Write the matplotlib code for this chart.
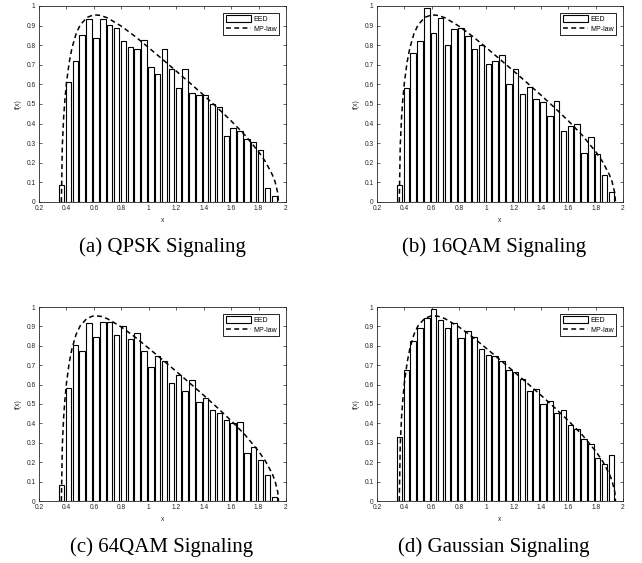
"""Empirical eigenvalue distribution (EED) vs. Marchenko-Pastur law for
four signaling schemes, drawn as a 2x2 grid of histograms.
"""

import matplotlib

matplotlib.use("Agg")
import matplotlib.pyplot as plt

plt.rcParams["font.family"] = ["Liberation Sans", "DejaVu Sans"]

# histogram bin centres (same bins in every panel)
BIN_CENTERS = [
    0.365, 0.415, 0.465, 0.515, 0.565, 0.615, 0.665, 0.715,
    0.765, 0.815, 0.865, 0.915, 0.965, 1.015, 1.065, 1.115,
    1.165, 1.215, 1.265, 1.315, 1.365, 1.415, 1.465, 1.515,
    1.565, 1.615, 1.665, 1.715, 1.765, 1.815, 1.865, 1.915,
]

EED_QPSK = [
    0.085, 0.61, 0.72, 0.85, 0.935, 0.835, 0.935, 0.905,
    0.89, 0.82, 0.79, 0.78, 0.825, 0.69, 0.655, 0.78,
    0.68, 0.58, 0.68, 0.555, 0.545, 0.545, 0.50, 0.485,
    0.335, 0.375, 0.36, 0.32, 0.305, 0.265, 0.07, 0.03,
]
EED_16QAM = [
    0.085, 0.58, 0.76, 0.82, 0.99, 0.86, 0.94, 0.80,
    0.885, 0.89, 0.845, 0.78, 0.80, 0.705, 0.72, 0.75,
    0.60, 0.68, 0.55, 0.585, 0.525, 0.51, 0.44, 0.515,
    0.36, 0.39, 0.40, 0.25, 0.33, 0.245, 0.14, 0.05,
]
EED_64QAM = [
    0.085, 0.585, 0.805, 0.775, 0.915, 0.845, 0.925, 0.925,
    0.855, 0.90, 0.835, 0.865, 0.775, 0.69, 0.75, 0.72,
    0.61, 0.65, 0.565, 0.625, 0.51, 0.53, 0.47, 0.455,
    0.415, 0.40, 0.405, 0.245, 0.28, 0.21, 0.135, 0.02,
]
EED_GAUSS = [
    0.33, 0.675, 0.825, 0.89, 0.945, 0.99, 0.935, 0.89,
    0.92, 0.84, 0.875, 0.845, 0.785, 0.755, 0.745, 0.72,
    0.675, 0.665, 0.63, 0.565, 0.575, 0.50, 0.515, 0.455,
    0.47, 0.39, 0.37, 0.32, 0.295, 0.22, 0.19, 0.235,
]

# MP-law curve, points
MP_X = [
    0.363, 0.37, 0.38, 0.39, 0.40, 0.42, 0.44, 0.47, 0.50, 0.55,
    0.60, 0.65, 0.70, 0.80, 0.90, 1.00, 1.10, 1.20, 1.30, 1.40,
    1.50, 1.60, 1.70, 1.80, 1.85, 1.90, 1.92, 1.94, 1.945,
]
MP_Y = [
    0.0, 0.288, 0.436, 0.533, 0.607, 0.712, 0.785, 0.858, 0.903, 0.942,
    0.955, 0.952, 0.939, 0.897, 0.845, 0.787, 0.728, 0.668, 0.607, 0.545,
    0.481, 0.414, 0.342, 0.257, 0.206, 0.140, 0.104, 0.046, 0.0,
]

PANELS = [
    ("(a) QPSK Signaling", EED_QPSK),
    ("(b) 16QAM Signaling", EED_16QAM),
    ("(c) 64QAM Signaling", EED_64QAM),
    ("(d) Gaussian Signaling", EED_GAUSS),
]

W, H = 642, 563
# axes boxes in pixels: left, top, right, bottom
BOXES = [
    (39, 6, 286, 202),
    (377, 6, 623, 202),
    (39, 307, 286, 501),
    (377, 307, 623, 501),
]
CAPTION_X = [162, 494, 162, 494]
CAPTION_Y = [247, 247, 547, 547]

INK = "#262626"

fig = plt.figure(figsize=(W / 100, H / 100), dpi=100)

for (caption, eed), (l, t, r, b), cx, cy in zip(PANELS, BOXES, CAPTION_X, CAPTION_Y):
    ax = fig.add_axes([l / W, 1 - b / H, (r - l) / W, (b - t) / H])
    bars = ax.bar(BIN_CENTERS, eed, width=0.04, color="white", edgecolor="black",
                  linewidth=0.8, zorder=2)
    (curve,) = ax.plot(MP_X, MP_Y, color="black", linestyle=(0, (3.2, 2.2)),
                       linewidth=1.1, zorder=3)

    ax.set_xlim(0.2, 2)
    ax.set_ylim(0, 1)
    ax.set_xticks([0.2, 0.4, 0.6, 0.8, 1, 1.2, 1.4, 1.6, 1.8, 2])
    ax.set_xticklabels(["0.2", "0.4", "0.6", "0.8", "1", "1.2", "1.4", "1.6", "1.8", "2"])
    ax.set_yticks([i / 10 for i in range(11)])
    ax.set_yticklabels(["0", "0.1", "0.2", "0.3", "0.4", "0.5", "0.6", "0.7", "0.8", "0.9", "1"])
    ax.tick_params(direction="in", length=2.5, width=0.5, labelsize=4.8,
                   colors=INK, pad=2.5, top=True, right=True)
    for sp in ax.spines.values():
        sp.set_linewidth(0.6)
        sp.set_color(INK)
    ax.set_xlabel("x", fontsize=4.8, color=INK, labelpad=3)
    ax.set_ylabel("f(x)", fontsize=4.8, color=INK, labelpad=3)

    leg = ax.legend([bars, curve], ["EED", "MP-law"], loc="upper right",
                    fontsize=5, frameon=True, fancybox=False,
                    edgecolor="black", framealpha=1, handlelength=3.6,
                    handleheight=1.0, labelspacing=0.35, borderpad=0.35,
                    borderaxespad=1.0, handletextpad=0.3)
    leg.get_frame().set_linewidth(0.6)

    fig.text(cx / W, 1 - cy / H, caption, ha="center", va="center",
             fontsize=15, family=["Liberation Serif", "DejaVu Serif"])

fig.savefig("out.png", dpi=100)
